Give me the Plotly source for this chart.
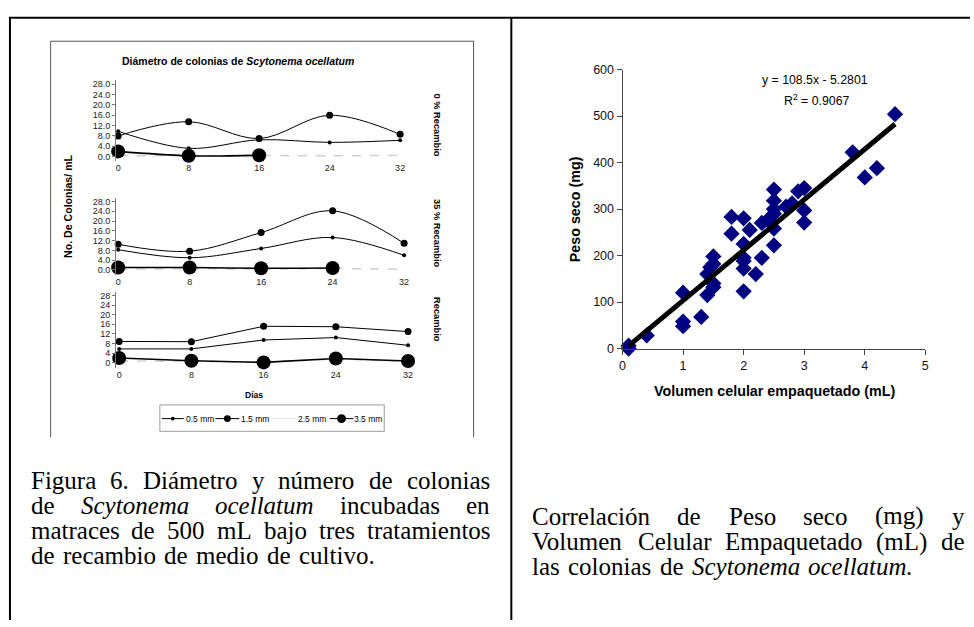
import plotly.graph_objects as go

# ---------------- data ----------------
DIAS = [0, 8, 16, 24, 32]
DIAMETROS = ["0.5 mm", "1.5 mm", "2.5 mm", "3.5 mm"]

# 0 % recambio
R0_05 = [9.8, 3.2, 6.5, 5.5, 6.3]
R0_15 = [8.0, 13.5, 7.0, 16.0, 8.6]
R0_25 = [0.4, 0.3, 0.4, 0.3, 0.5]
R0_35 = [2.0, 0.3, 0.5, None, None]

# 35 % recambio
R35_05 = [8.3, 5.0, 8.8, 13.3, 6.0]
R35_15 = [10.5, 7.7, 15.3, 24.2, 10.9]
R35_25 = [0.3, 0.5, 0.4, 0.6, 0.3]
R35_35 = [1.0, 1.0, 0.7, 0.8, None]

# 70 % recambio
R70_05 = [5.8, 5.8, 9.5, 10.5, 7.3]
R70_15 = [8.9, 8.8, 15.2, 15.0, 13.0]
R70_25 = [0.8, 0.6, 0.4, 1.6, 0.6]
R70_35 = [2.0, 0.9, 0.2, 1.8, 0.8]

Y_TICKS = [0, 4, 8, 12, 16, 20, 24, 28]

# packed cell volume (mL) vs dry weight (mg)
VCE = [0.1, 0.1, 0.4, 1.0, 1.0, 1.0, 1.3, 1.4, 1.4, 1.45, 1.5, 1.5, 1.5, 1.5,
       1.8, 1.8, 2.0, 2.1, 2.0, 2.0, 2.0, 2.0, 2.0, 2.2, 2.3, 2.3, 2.4, 2.45,
       2.5, 2.5, 2.5, 2.5, 2.5, 2.5, 2.7, 2.8, 2.9, 3.0, 3.0, 3.0,
       3.8, 4.0, 4.2, 4.5]
PESO = [6, 0, 28, 120, 58, 48, 68, 115, 160, 175, 198, 182, 140, 132,
        283, 247, 280, 255, 225, 195, 188, 172, 123, 160, 195, 270, 276, 283,
        342, 318, 300, 290, 258, 222, 305, 312, 338, 345, 297, 271,
        422, 368, 388, 504]
SLOPE = 108.5
INTERCEPT = -5.2801
R2 = 0.9067

# ---------------- helpers ----------------
W, H = 974, 627


def px(x):
    return x / W


def py(y):
    return 1 - y / H


def x_range(p0, p32, left, right):
    k = (p32 - p0) / 32.0
    return [(left - p0) / k, (right - p0) / k]


def y_range(p28, p0, top, bottom):
    k = (p0 - p28) / 28.0
    return [(p0 - bottom) / k, (p0 - top) / k]


SANS = "Arial, Liberation Sans, sans-serif"
SERIF = "Times New Roman, Liberation Serif, serif"

fig = go.Figure()

# ---------------- colony panels ----------------
panels = [
    ("x", "y", [R0_05, R0_15, R0_25, R0_35], "spline"),
    ("x2", "y2", [R35_05, R35_15, R35_25, R35_35], "spline"),
    ("x3", "y3", [R70_05, R70_15, R70_25, R70_35], "linear"),
]
styles = [
    dict(mode="lines+markers", line=dict(color="black", width=1),
         marker=dict(size=4, color="black")),
    dict(mode="lines+markers", line=dict(color="black", width=1),
         marker=dict(size=7, color="black")),
    dict(mode="lines", line=dict(color="#cfcfcf", width=1.5, dash="dash")),
    dict(mode="lines+markers", line=dict(color="black", width=1.6),
         marker=dict(size=14, color="black")),
]
draw_order = [2, 0, 1, 3]
for xa, ya, series, shape in panels:
    for i in draw_order:
        st = styles[i]
        line = dict(st["line"], shape=shape)
        fig.add_trace(go.Scatter(
            x=DIAS, y=series[i], xaxis=xa, yaxis=ya, name=DIAMETROS[i],
            mode=st["mode"], line=line, marker=st.get("marker"),
            showlegend=False, cliponaxis=False, connectgaps=False))

# axis placement of the three panels (pixel anchors)
panel_geo = [
    # x0px, x32px, y28px, y0px, top, bottom, label fmt
    (116, 400, 79, 153, 75, 158, "{:.1f}"),
    (116, 404, 199, 269, 195, 274, "{:.1f}"),
    (117, 408, 295, 364, 291, 369, "{:d}"),
]
XL, XR = 114, 412
for n, (p0, p32, p28, q0, top, bot, fmt) in enumerate(panel_geo, start=1):
    sfx = "" if n == 1 else str(n)
    fig.update_layout(**{
        "xaxis" + sfx: dict(
            domain=[px(XL), px(XR)], range=x_range(p0, p32, XL, XR),
            anchor="y" + sfx, showgrid=False, zeroline=False, showline=False,
            ticks="", tickvals=DIAS, ticktext=[str(d) for d in DIAS],
            tickfont=dict(family=SANS, size=9, color="#222")),
        "yaxis" + sfx: dict(
            domain=[py(bot), py(top)], range=y_range(p28, q0, top, bot),
            anchor="x" + sfx, showgrid=False, zeroline=False, showline=True,
            linecolor="#777", linewidth=1, ticks="outside", ticklen=3,
            tickcolor="#777", tickvals=Y_TICKS,
            ticktext=[fmt.format(v) for v in Y_TICKS],
            tickfont=dict(family=SANS, size=9, color="#222")),
    })

# ---------------- correlation panel ----------------
fig.add_trace(go.Scatter(
    x=VCE, y=PESO, xaxis="x4", yaxis="y4", mode="markers",
    marker=dict(symbol="diamond", size=12.5, color="#000080"),
    showlegend=False, cliponaxis=False))
fit_x = [min(VCE), max(VCE)]
fit_y = [SLOPE * v + INTERCEPT for v in fit_x]
fig.add_trace(go.Scatter(
    x=fit_x, y=fit_y, xaxis="x4", yaxis="y4", mode="lines",
    line=dict(color="black", width=5), showlegend=False, cliponaxis=False))

fig.update_layout(
    xaxis4=dict(domain=[px(624), px(929)], range=[0, 5], anchor="y4",
                showgrid=False, zeroline=False, showline=True,
                linecolor="#444", linewidth=1, ticks="outside", ticklen=5,
                tickcolor="#444", dtick=1,
                tickfont=dict(family=SANS, size=12.5, color="#111")),
    yaxis4=dict(domain=[py(349.3), py(64)], range=[0, 600], anchor="x4",
                showgrid=False, zeroline=False, showline=True,
                linecolor="#444", linewidth=1, ticks="outside", ticklen=5,
                tickcolor="#444", dtick=100,
                tickfont=dict(family=SANS, size=12.5, color="#111")),
)

ann = []


def note(x, y, text, size, family=SANS, angle=0, xanchor="center",
         yanchor="middle", color="black"):
    ann.append(dict(x=px(x), y=py(y), xref="paper", yref="paper", text=text,
                    showarrow=False, textangle=angle, xanchor=xanchor,
                    yanchor=yanchor, borderpad=0, borderwidth=0,
                    font=dict(family=family, size=size, color=color)))


# texts of the correlation chart
intercept_txt = ("- " if INTERCEPT < 0 else "+ ") + f"{abs(INTERCEPT)}"
note(818, 75, f"y = {SLOPE}x {intercept_txt}", 12.3)
note(819, 95, f"R<sup>2</sup> = {R2}", 12.3)
note(777, 393, "<b>Volumen celular empaquetado (mL)</b>", 14.3)
note(577, 207, "<b>Peso seco (mg)</b>", 14.3, angle=-90)

# texts of the colony chart
note(237, 55, "<b>Diámetro de colonias de <i>Scytonema ocellatum</i></b>", 10.5)
note(66, 204, "<b>No. De Colonias/ mL</b>", 10.6, angle=-90)
note(437, 121, "<b>0 % Recambio</b>", 9.3, angle=90)
note(437, 232, "<b>35 % Recambio</b>", 9.3, angle=90)
note(437, 320, "<b>Recambio</b>", 9.3, angle=90)
note(253, 397, "<b>Días</b>", 8.5)

# legend of the colony chart
shapes = []
leg_y = 421
leg_items = [  # line start, line end, dot radius, text x
    (160, 182, 2.0, 184),
    (214, 238, 3.5, 240),
    (272, 295, 0, 297),
    (329, 353, 4.5, 354),
]
for (l0, l1, r, tx), lab in zip(leg_items, DIAMETROS):
    col = "black" if r > 0 else "#e2e2e2"
    shapes.append(dict(type="line", xref="paper", yref="paper",
                       x0=px(l0), x1=px(l1), y0=py(leg_y), y1=py(leg_y),
                       line=dict(color=col, width=1)))
    if r > 0:
        cx = (l0 + l1) / 2
        shapes.append(dict(type="circle", xref="paper", yref="paper",
                           x0=px(cx - r), x1=px(cx + r),
                           y0=py(leg_y + r), y1=py(leg_y - r),
                           fillcolor="black", line=dict(width=0)))
    note(tx, leg_y, lab, 8.5, xanchor="left")

shapes.append(dict(type="rect", xref="paper", yref="paper",
                   x0=px(158), x1=px(384), y0=py(434), y1=py(407),
                   line=dict(color="#9a9a9a", width=1)))

# frame of the colony chart
for x0, y0, x1, y1 in [(48, 35, 474, 35), (48, 35, 48, 440),
                       (474, 35, 474, 440)]:
    shapes.append(dict(type="line", xref="paper", yref="paper",
                       x0=px(x0), y0=py(y0), x1=px(x1), y1=py(y1),
                       line=dict(color="#555", width=1)))

# table rules of the page
for x0, y0, x1, y1 in [(6, 11, 974, 11), (7, 11, 7, 627),
                       (512, 11, 512, 627)]:
    shapes.append(dict(type="line", xref="paper", yref="paper",
                       x0=px(x0), y0=py(y0), x1=px(x1), y1=py(y1),
                       line=dict(color="black", width=2)))

# ---------------- captions (justified serif text) ----------------
REG = {' ': 250, '(': 333, ')': 333, '.': 250, '0': 500, '5': 500, '6': 500,
       'a': 444, 'b': 500, 'c': 444, 'd': 500, 'e': 444, 'g': 500, 'i': 278,
       'j': 278, 'l': 278, 'm': 778, 'n': 500, 'o': 500, 'p': 500, 'q': 500,
       'r': 333, 's': 389, 't': 278, 'u': 500, 'v': 500, 'y': 500,
       'á': 444, 'ó': 500, 'ú': 500, 'C': 667, 'D': 722, 'E': 611, 'F': 556,
       'L': 611, 'P': 556, 'V': 722}
ITA = {'S': 500, 'c': 444, 'y': 444, 't': 278, 'o': 500, 'n': 500, 'e': 444,
       'm': 722, 'a': 500, 'l': 278, 'u': 500, '.': 250}
CAP_SIZE = 25


def word_width(w, italic):
    table = ITA if italic else REG
    return sum(table.get(c, 500) for c in w) * CAP_SIZE / 1000.0


def caption_line(words, y, left, right, justify):
    widths = [word_width(w, it) for w, it in words]
    if justify and len(words) > 1:
        gap = (right - left - sum(widths)) / (len(words) - 1)
    else:
        gap = REG[' '] * CAP_SIZE / 1000.0 * 1.4
    x = left
    for (w, it), wd in zip(words, widths):
        note(x, y, f"<i>{w}</i>" if it else w, CAP_SIZE, family=SERIF,
             xanchor="left")
        x += wd + gap


def words(text, italic_words=()):
    return [(w, w.rstrip('.') in italic_words) for w in text.split()]


ITALIC = ("Scytonema", "ocellatum")
left_caption = [
    "Figura 6. Diámetro y número de colonias",
    "de Scytonema ocellatum incubadas en",
    "matraces de 500 mL bajo tres tratamientos",
    "de recambio de medio de cultivo.",
]
right_caption = [
    "Correlación de Peso seco (mg) y",
    "Volumen Celular Empaquetado (mL) de",
    "las colonias de Scytonema ocellatum.",
]
LINE_STEP = 25.8
for i, t in enumerate(left_caption):
    caption_line(words(t, ITALIC), 484 + i * LINE_STEP, 28, 490,
                 i < len(left_caption) - 1)
for i, t in enumerate(right_caption):
    caption_line(words(t, ITALIC), 521 + i * LINE_STEP, 533, 968,
                 i < len(right_caption) - 1)

fig.update_layout(
    width=W, height=H, margin=dict(l=0, r=0, t=0, b=0),
    paper_bgcolor="white", plot_bgcolor="rgba(0,0,0,0)",
    showlegend=False, annotations=ann, shapes=shapes,
)

fig.write_html("out.html")
